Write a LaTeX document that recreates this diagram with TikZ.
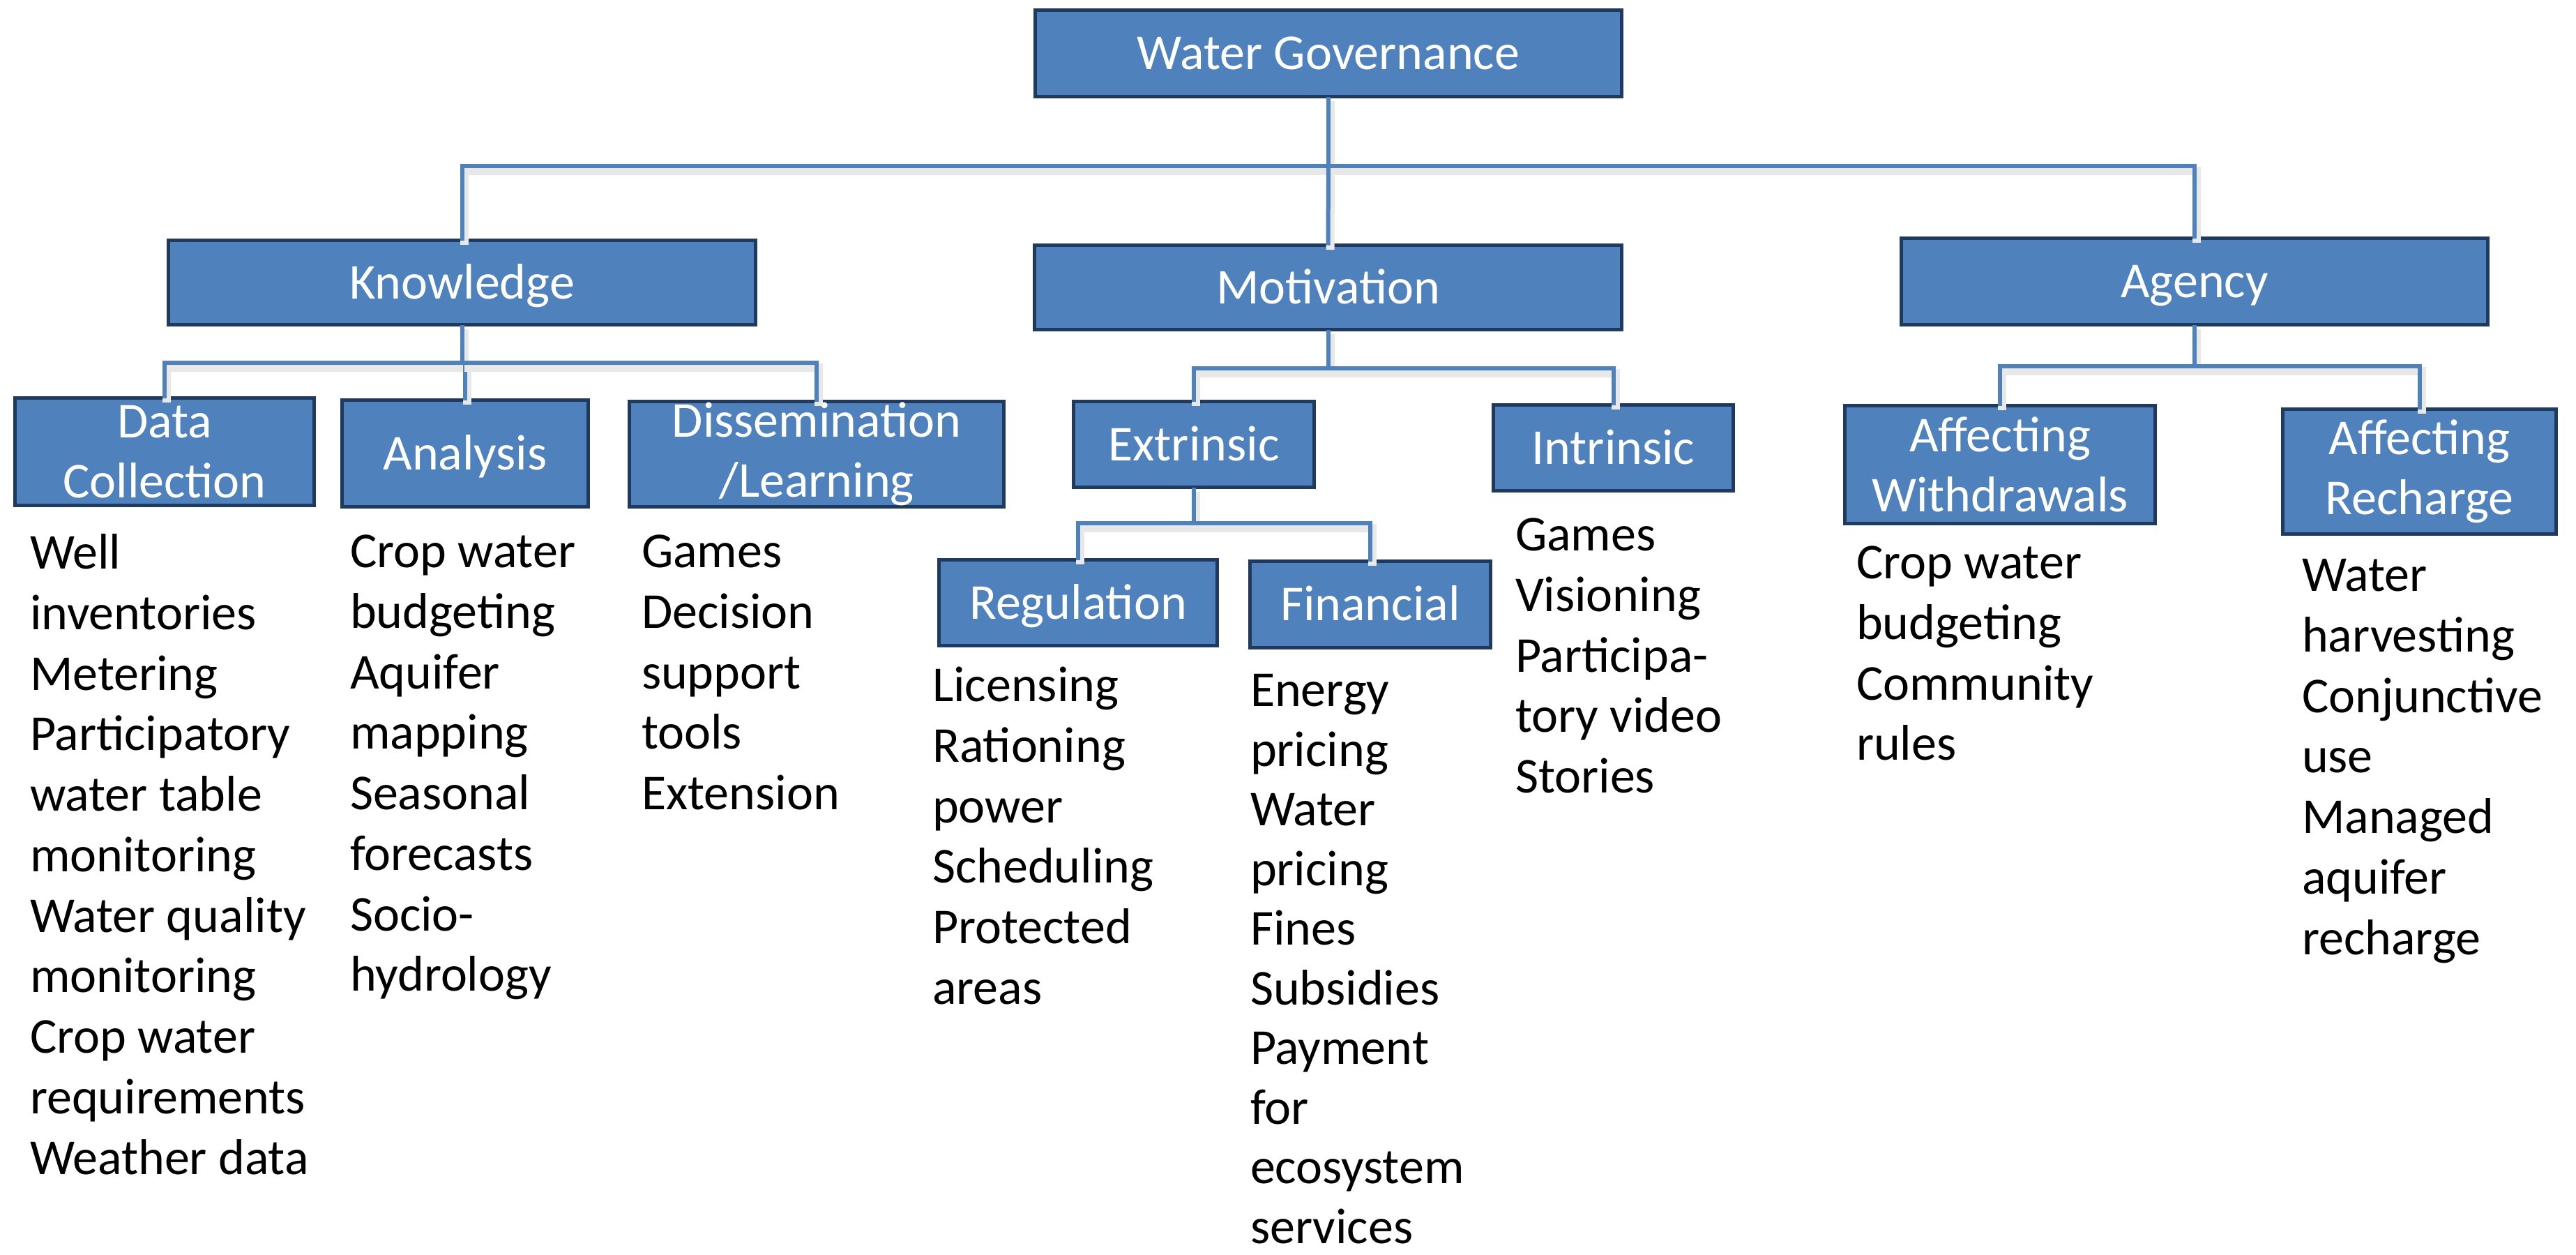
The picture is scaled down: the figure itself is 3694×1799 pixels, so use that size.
\documentclass[tikz,border=0pt]{standalone}
\usepackage{fontspec}
\setmainfont{Carlito}
\definecolor{boxfill}{HTML}{4F81BD}
\definecolor{boxline}{HTML}{1F3A5C}
\definecolor{linkblue}{HTML}{4F81BD}
\newcommand\fl{\rule{0pt}{11.5pt}}
\begin{document}
\begin{tikzpicture}[x=0.2pt,y=-0.2pt,
  every node/.style={inner sep=0pt, outer sep=0pt},
  box/.style={draw=boxline, line width=1pt, fill=boxfill, text=white,
    font=\fontsize{14.4}{17.3}\selectfont, align=center},
  box1/.style={box, text height=9.27pt, text depth=0pt},
  list/.style={anchor=north west, align=left,
    font=\fontsize{14.4}{17.35}\selectfont, text=black},
  conn/.style={draw=linkblue, line width=1.2pt,
    preaction={draw=black!9, line width=2.4pt,
      transform canvas={shift={(0.6pt,-1.3pt)}}}}
]
\useasboundingbox (0,0) rectangle (3694,1799);

% boxes
\node[box1, minimum width=168.2pt, minimum height=24.8pt] (wg) at (1905,76.5) {Water Governance};
\node[box1, minimum width=168.4pt, minimum height=24.2pt] (kn) at (662.5,405) {Knowledge};
\node[box1, minimum width=168.4pt, minimum height=24.2pt] (mo) at (1904.5,412) {Motivation};
\node[box1, minimum width=168.2pt, minimum height=24.8pt] (ag) at (3147,403.5) {Agency};
\node[box, minimum width=85.8pt, minimum height=30.8pt] (dc) at (236,647.5) {Data\\Collection};
\node[box1, minimum width=70.6pt, minimum height=30.6pt] (an) at (667,650) {Analysis};
\node[box, minimum width=107.4pt, minimum height=30.2pt] (di) at (1171,651) {Dissemination\\/Learning};
\node[box1, minimum width=69pt, minimum height=24.6pt] (ex) at (1712,637) {Extrinsic};
\node[box1, minimum width=68.8pt, minimum height=24.6pt] (in) at (2313.5,642) {Intrinsic};
\node[box1, minimum width=79.8pt, minimum height=24.6pt] (rg) at (1546,864) {Regulation};
\node[box1, minimum width=69pt, minimum height=24.8pt] (fi) at (1965,866.5) {Financial};
\node[box, minimum width=89pt, minimum height=33.8pt] (aw) at (2868,666) {Affecting\\Withdrawals};
\node[box, minimum width=78.4pt, minimum height=35.8pt] (ar) at (3469.5,676) {Affecting\\Recharge};

% bus points
\coordinate (b0) at (1905,238);
\coordinate (b1) at (662.5,520);
\coordinate (b2) at (1904.5,528);
\coordinate (b3) at (1712,750);
\coordinate (b4) at (3147,525);

% connectors
\draw[conn] (wg.south) -- (b0);
\draw[conn] (b0) -| (kn.north);
\draw[conn] (b0) -- (mo.north);
\draw[conn] (b0) -| (ag.north);
\draw[conn] (kn.south) -- (b1);
\draw[conn] (b1) -| (dc.north);
\draw[conn] (b1) -| (an.north);
\draw[conn] (b1) -| (di.north);
\draw[conn] (mo.south) -- (b2);
\draw[conn] (b2) -| (ex.north);
\draw[conn] (b2) -| (in.north);
\draw[conn] (ex.south) -- (b3);
\draw[conn] (b3) -| (rg.north);
\draw[conn] (b3) -| (fi.north);
\draw[conn] (ag.south) -- (b4);
\draw[conn] (b4) -| (aw.north);
\draw[conn] (b4) -| (ar.north);

% lists
\node[list] (ldc) at (43,758) {\fl Well\\inventories\\Metering\\Participatory\\water table\\monitoring\\Water quality\\monitoring\\Crop water\\requirements\\Weather data};
\node[list] (lan) at (502,756) {\fl Crop water\\budgeting\\Aquifer\\mapping\\Seasonal\\forecasts\\Socio-\\hydrology};
\node[list] (ldi) at (920,756) {\fl Games\\Decision\\support\\tools\\Extension};
\node[list] (lrg) at (1337,948) {\fl Licensing\\Rationing\\power\\Scheduling\\Protected\\areas};
\node[list, font=\fontsize{14.4}{17.1}\selectfont] (lfi) at (1793,955) {\fl Energy\\pricing\\Water\\pricing\\Fines\\Subsidies\\Payment\\for\\ecosystem\\services};
\node[list] (lin) at (2173,732) {\fl Games\\Visioning\\Participa-\\tory video\\Stories};
\node[list] (law) at (2662,772) {\fl Crop water\\budgeting\\Community\\rules};
\node[list] (lar) at (3301,790) {\fl Water\\harvesting\\Conjunctive\\use\\Managed\\aquifer\\recharge};
\end{tikzpicture}
\end{document}
